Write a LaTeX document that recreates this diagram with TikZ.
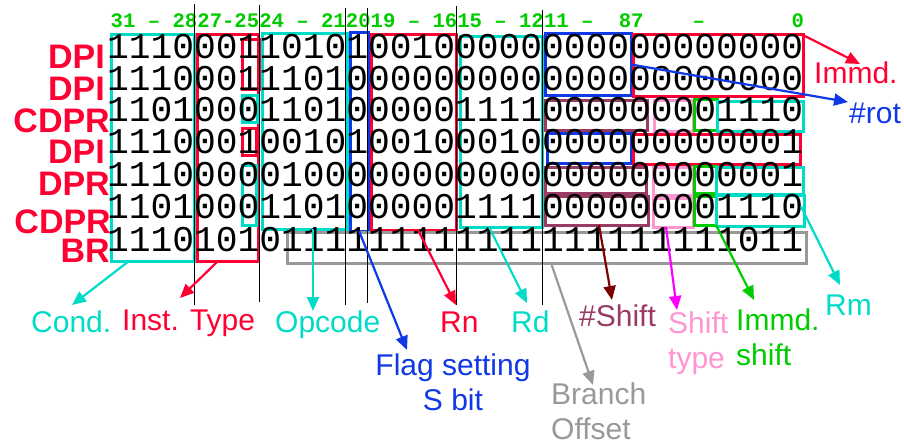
\documentclass[tikz,border=0pt]{standalone}
\usepackage{fontspec}
\setmainfont{Liberation Sans}
\newfontfamily\bitsfont{Liberation Mono}
\usetikzlibrary{arrows.meta}
\definecolor{cRed}{RGB}{255,0,51}
\definecolor{cCyan}{RGB}{0,220,200}
\definecolor{cBlue}{RGB}{16,56,230}
\definecolor{cGreen}{RGB}{0,204,0}
\definecolor{cMaroon}{RGB}{153,60,100}
\definecolor{cDarkRed}{RGB}{128,0,0}
\definecolor{cPink}{RGB}{255,150,210}
\definecolor{cMagenta}{RGB}{255,0,255}
\definecolor{cGray}{RGB}{153,153,153}
\newcommand\fieldbox[6]{\node[fbox=#2, minimum width={(#5)-(#3)}, minimum height={(#6)-(#4)}] (#1) at ({((#3)+(#5))/2},{((#4)+(#6))/2}) {};}
\begin{document}
\begin{tikzpicture}[x=1pt,y=-1pt,
  fbox/.style={draw=#1, line width=3pt, inner sep=0pt, outer sep=0pt},
  bitrow/.style={font=\bitsfont\fontsize{36.25}{36.25}\selectfont, anchor=base west, inner sep=0pt},
  hdr/.style={font=\bitsfont\bfseries\fontsize{20.6}{20.6}\selectfont, text=cGreen, anchor=base west, inner sep=0pt},
  ilabel/.style={font=\bfseries\fontsize{34}{34}\selectfont, text=cRed, anchor=base east, inner sep=0pt},
  flabel/.style={font=\fontsize{30}{35}\selectfont, text=#1, anchor=base west, inner sep=0pt, align=left},
  clabel/.style={font=\fontsize{30}{35}\selectfont, text=#1, anchor=base, inner sep=0pt, align=center},
  arr/.style={draw=#1, line width=2.2pt, -{Triangle[length=14pt,width=12pt]}},
  guide/.style={draw=black, line width=0.9pt}
]
\fill[white] (0,0) rectangle (904,444);
\useasboundingbox (0,0) rectangle (904,444);

% field boxes
\fieldbox{cond}{cCyan}{111}{35}{194}{261}
\fieldbox{itype}{cRed}{197}{35}{258}{261}
\fieldbox{iba}{cRed}{242}{40}{261}{89}
\fieldbox{ibc}{cCyan}{242}{95}{257}{122}
\fieldbox{ibd}{cRed}{242}{128}{256}{155}
\fieldbox{ibe}{cCyan}{242}{165}{256}{225}
\fieldbox{opc}{cCyan}{262}{34}{347}{229}
\fieldbox{sbit}{cBlue}{350}{33}{368}{231}
\fieldbox{rn}{cRed}{371}{35}{456}{230}
\fieldbox{rd}{cCyan}{460}{37}{542}{227}
\fieldbox{rotA}{cBlue}{545}{34}{631}{95}
\fieldbox{immA}{cRed}{633}{35}{803}{96}
\fieldbox{shA}{cMaroon}{545}{100}{647}{130}
\fieldbox{stA}{cPink}{654}{100}{693}{131}
\fieldbox{isA}{cGreen}{694}{99}{717}{130}
\fieldbox{rmA}{cCyan}{717}{101}{803}{131}
\fieldbox{rotB}{cBlue}{547}{133}{631}{163}
\fieldbox{immB}{cRed}{633}{134}{800}{164}
\fieldbox{shB}{cMaroon}{545}{167}{646}{193}
\fieldbox{stB}{cPink}{653}{167}{693}{195}
\fieldbox{isB}{cGreen}{694}{166}{716}{193}
\fieldbox{rmB}{cCyan}{716}{167}{803}{194}
\fieldbox{shC}{cMaroon}{545}{196}{648}{225}
\fieldbox{stC}{cPink}{653}{198}{693}{227}
\fieldbox{isC}{cGreen}{694}{196}{716}{225}
\fieldbox{rmC}{cCyan}{716}{195}{804}{226}
\fieldbox{boff}{cGray}{287}{232}{806}{263}

% bit rows
\node[bitrow] (r1) at (107,59) {11100011010100100000000000000000};
\node[bitrow] (r2) at (107,90) {11100011101000000000000000000000};
\node[bitrow] (r3) at (107,121) {11010001101000001111000000001110};
\node[bitrow] (r4) at (107,153) {11100010010100100010000000000001};
\node[bitrow] (r5) at (107,186) {11100000100000000000000000000001};
\node[bitrow] (r6) at (107,218) {11010001101000001111000000001110};
\node[bitrow] (r7) at (107,251) {11101010111111111111111111111011};

% header
\node[hdr] (h1) at (110.5,28) {31 – 28};
\node[hdr] (h2) at (197.2,28) {27-25};
\node[hdr] (h3) at (259.1,28) {24 – 21};
\node[hdr] (h4) at (345.7,28) {20};
\node[hdr] (h5) at (370.5,28) {19 – 16};
\node[hdr] (h6) at (457.1,28) {15 – 12};
\node[hdr] (h7) at (543.8,28) {11 –};
\node[hdr] (h8) at (618.6,28) {87};
\node[hdr] (h9) at (692.4,28) {–};
\node[hdr] (h10) at (791.4,28) {0};

% guide lines
\draw[guide] (194,4) -- (194,305);
\draw[guide] (259,5) -- (259,302);
\draw[guide] (345,8) -- (345,305);
\draw[guide] (367,8) -- (367,303);
\draw[guide] (456,6) -- (456,305);
\draw[guide] (542,10) -- (542,305);

% instruction labels
\node[ilabel] (l1) at (105,68) {DPI};
\node[ilabel] (l2) at (105,100) {DPI};
\node[ilabel] (l3) at (110,132) {CDPR};
\node[ilabel] (l4) at (105,163) {DPI};
\node[ilabel] (l5) at (110,195) {DPR};
\node[ilabel] (l6) at (111,233) {CDPR};
\node[ilabel] (l7) at (110,262) {BR};

% field labels (multi-line nodes: base = last line)
\node[flabel=cCyan] (tcond) at (31,332) {Cond.};
\node[flabel=cRed] (titype) at (122,330) {Inst. Type};
\node[flabel=cCyan] (topc) at (275,332) {Opcode};
\node[clabel=cBlue] (tflag) at (453,410) {Flag setting\\S bit};
\node[flabel=cRed] (trn) at (440,332) {Rn};
\node[flabel=cCyan] (trd) at (511,332) {Rd};
\node[flabel=cMaroon] (tsh) at (579,326) {\#Shift};
\node[flabel=cPink] (tst) at (668,368) {Shift\\type};
\node[flabel=cGreen] (tis) at (736,365) {Immd.\\shift};
\node[flabel=cCyan] (trm) at (825,315) {Rm};
\node[flabel=cGray] (tbo) at (551,439) {Branch\\Offset};
\node[flabel=cRed] (timm) at (814,83) {Immd.};
\node[flabel=cBlue] (trot) at (849,123) {\#rot};

% arrow end points
\coordinate (cT) at (72,305);
\coordinate (iT) at (180,298);
\coordinate (oT) at (313,311);
\coordinate (sT) at (407,350);
\coordinate (nT) at (456,305);
\coordinate (dT) at (527,303);
\coordinate (bT) at (593,385);
\coordinate (hT) at (612,300);
\coordinate (tT) at (677,310);
\coordinate (gT) at (754,300);
\coordinate (mT) at (840,285);
\coordinate (eT) at (860,64);
\coordinate (rT) at (848,102);

\draw[arr=cCyan] (cond.south west) ++(18,0) -- (cT);
\draw[arr=cRed] (itype.south west) ++(21,0) -- (iT);
\draw[arr=cCyan] (opc.south west) ++(51,0) -- (oT);
\draw[arr=cBlue] (sbit.south) -- (sT);
\draw[arr=cRed] (rn.south west) ++(47,0) -- (nT);
\draw[arr=cCyan] (rd.south west) ++(29,0) -- (dT);
\draw[arr=cGray] (boff.south west) ++(264,0) -- (bT);
\draw[arr=cDarkRed] (shC.south west) ++(54,0) -- (hT);
\draw[arr=cMagenta] (stC.south west) ++(13,0) -- (tT);
\draw[arr=cGreen] (isC.south east) -- (gT);
\draw[arr=cCyan] (rmC.east) ++(-3,-4) -- (mT);
\draw[arr=cRed] (immA.north east) -- (eT);
\draw[arr=cBlue] (rotA.east) -- (rT);
\end{tikzpicture}
\end{document}
